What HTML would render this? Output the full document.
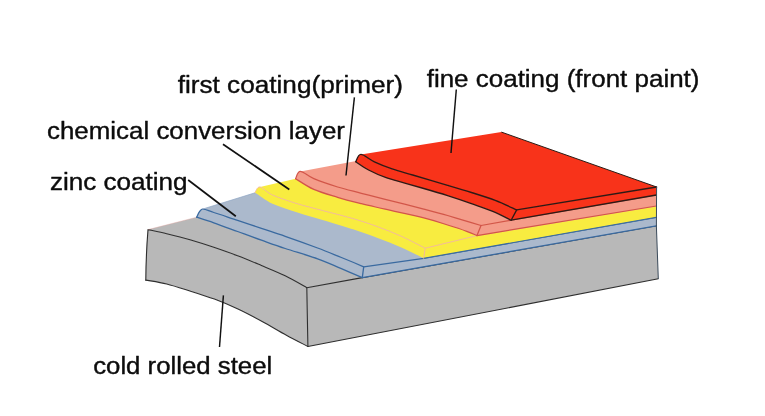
<!DOCTYPE html>
<html><head><meta charset="utf-8"><title>Coating layers</title>
<style>
html,body{margin:0;padding:0;background:#fff;}
body{width:765px;height:416px;overflow:hidden;}
svg{display:block;}
text{font-family:"Liberation Sans",Arial,sans-serif;font-size:24.6px;fill:#0c0c0c;stroke:#0c0c0c;stroke-width:0.4px;stroke-linejoin:round;}
svg{will-change:transform;}
</style></head><body>
<svg width="765" height="416" viewBox="0 0 765 416">
<rect width="765" height="416" fill="#ffffff"/>
<path d="M148.0,229.6L400.0,166.0L656.4,225.8L362.3,277.6L306.8,287.7C303.2,285.7 292.8,279.5 285.2,275.8C277.6,272.1 269.3,268.8 261.4,265.5C253.5,262.2 245.5,258.8 237.6,255.8C229.7,252.8 221.7,250.0 213.8,247.3C205.9,244.6 197.8,242.1 190.0,239.8C182.2,237.5 173.7,235.4 166.7,233.7C159.7,232.0 151.1,230.3 148.0,229.6Z" fill="#b8b8b8"/>
<path d="M145.8,280.1C146.0,254.7 146.0,254.7 148.0,229.6C151.1,230.3 159.7,232.0 166.7,233.7C173.7,235.4 182.2,237.5 190.0,239.8C197.8,242.1 205.9,244.6 213.8,247.3C221.7,250.0 229.7,252.8 237.6,255.8C245.5,258.8 253.5,262.2 261.4,265.5C269.3,268.8 277.6,272.1 285.2,275.8C292.8,279.5 303.2,285.7 306.8,287.7L307.9,346.5C304.3,344.6 293.9,339.3 286.4,335.2C278.8,331.1 270.6,326.0 262.6,321.7C254.6,317.4 246.5,313.1 238.5,309.3C230.5,305.5 222.4,302.1 214.4,299.1C206.4,296.1 198.6,293.7 190.6,291.2C182.6,288.7 174.2,285.9 166.7,284.0C159.2,282.1 149.3,280.8 145.8,280.1Z" fill="#b8b8b8"/>
<path d="M306.8,287.7L362.3,277.6L656.4,225.8L658.3,278.8L307.9,346.5Z" fill="#b8b8b8"/>
<path d="M145.8,280.1C149.3,280.8 159.2,282.1 166.7,284.0C174.2,285.9 182.6,288.7 190.6,291.2C198.6,293.7 206.4,296.1 214.4,299.1C222.4,302.1 230.5,305.5 238.5,309.3C246.5,313.1 254.6,317.4 262.6,321.7C270.6,326.0 278.8,331.1 286.4,335.2C293.9,339.3 304.3,344.6 307.9,346.5L658.3,278.8" fill="none" stroke="#2e2e2e" stroke-width="1.1" stroke-opacity="1" stroke-linejoin="round" stroke-linecap="round"/>
<path d="M145.8,280.1C146.0,254.7 146.0,254.7 148.0,229.6C151.1,230.3 159.7,232.0 166.7,233.7C173.7,235.4 182.2,237.5 190.0,239.8C197.8,242.1 205.9,244.6 213.8,247.3C221.7,250.0 229.7,252.8 237.6,255.8C245.5,258.8 253.5,262.2 261.4,265.5C269.3,268.8 277.6,272.1 285.2,275.8C292.8,279.5 303.2,285.7 306.8,287.7L362.3,277.6L656.4,225.8" fill="none" stroke="#2e2e2e" stroke-width="1.1" stroke-opacity="1" stroke-linejoin="round" stroke-linecap="round"/>
<path d="M306.8,287.7L307.9,346.5" fill="none" stroke="#2e2e2e" stroke-width="1.1" stroke-opacity="1" stroke-linejoin="round" stroke-linecap="round"/>
<path d="M148,229.6L196.7,217.2" fill="none" stroke="#e9a09a" stroke-width="0.6" stroke-opacity="0.6"/>
<path d="M201.9,209.3L255.0,192.8L400.0,160.0L656.4,217.3L423.7,258.3L363.7,266.8C360.0,265.2 349.1,260.6 341.4,257.5C333.7,254.4 327.0,251.5 317.6,248.0C308.2,244.5 294.6,239.6 285.2,236.3C275.8,233.0 269.3,231.0 261.4,228.3C253.5,225.7 245.5,223.0 237.6,220.4C229.7,217.8 219.8,214.3 213.8,212.5C207.9,210.7 204.8,208.5 201.9,209.3Z" fill="#abb9cc"/>
<path d="M196.7,217.2C197.6,215.9 199.1,210.1 201.9,209.3C204.8,208.5 207.9,210.7 213.8,212.5C219.8,214.3 229.7,217.8 237.6,220.4C245.5,223.0 253.5,225.7 261.4,228.3C269.3,231.0 275.8,233.0 285.2,236.3C294.6,239.6 308.2,244.5 317.6,248.0C327.0,251.5 333.7,254.4 341.4,257.5C349.1,260.6 360.0,265.2 363.7,266.8L362.3,277.6C358.8,276.1 348.8,271.8 341.4,268.7C333.9,265.6 327.0,262.2 317.6,258.8C308.2,255.4 294.6,251.6 285.2,248.5C275.8,245.4 269.3,243.0 261.4,240.2C253.5,237.4 245.5,234.4 237.6,231.5C229.7,228.6 220.6,225.2 213.8,222.8C207.0,220.4 199.5,218.1 196.7,217.2Z" fill="#abb9cc"/>
<path d="M363.7,266.8L423.7,258.3L656.4,217.3L656.4,225.8L362.3,277.6Z" fill="#abb9cc"/>
<path d="M196.7,217.2C199.5,218.1 207.0,220.4 213.8,222.8C220.6,225.2 229.7,228.6 237.6,231.5C245.5,234.4 253.5,237.4 261.4,240.2C269.3,243.0 275.8,245.4 285.2,248.5C294.6,251.6 308.2,255.4 317.6,258.8C327.0,262.2 333.9,265.6 341.4,268.7C348.8,271.8 358.8,276.1 362.3,277.6L656.4,225.8" fill="none" stroke="#3a6aa0" stroke-width="1.3" stroke-opacity="1" stroke-linejoin="round" stroke-linecap="round"/>
<path d="M196.7,217.2C197.6,215.9 199.1,210.1 201.9,209.3C204.8,208.5 207.9,210.7 213.8,212.5C219.8,214.3 229.7,217.8 237.6,220.4C245.5,223.0 253.5,225.7 261.4,228.3C269.3,231.0 275.8,233.0 285.2,236.3C294.6,239.6 308.2,244.5 317.6,248.0C327.0,251.5 333.7,254.4 341.4,257.5C349.1,260.6 360.0,265.2 363.7,266.8L423.7,258.3L656.4,217.3" fill="none" stroke="#3a6aa0" stroke-width="1.3" stroke-opacity="1" stroke-linejoin="round" stroke-linecap="round"/>
<path d="M363.7,266.8L362.3,277.6" fill="none" stroke="#3a6aa0" stroke-width="1.3" stroke-opacity="1" stroke-linejoin="round" stroke-linecap="round"/>
<path d="M201.9,209.3L255,192.8" fill="none" stroke="#8fa6c4" stroke-width="0.7"/>
<path d="M260.0,187.0L420.0,150.0L656.4,206.0L477.0,235.6L425.2,248.2C421.2,246.2 409.3,239.9 401.4,236.3C393.5,232.7 385.5,229.6 377.6,226.7C369.7,223.8 363.0,221.5 353.8,218.8C344.6,216.1 331.9,213.0 322.5,210.5C313.1,208.0 305.8,206.3 297.5,203.8C289.2,201.2 278.8,197.8 272.5,195.0C266.2,192.2 262.9,187.4 260.0,187.0Z" fill="#f8ec40"/>
<path d="M255.0,192.5C255.8,191.6 257.1,186.6 260.0,187.0C262.9,187.4 266.2,192.2 272.5,195.0C278.8,197.8 289.2,201.2 297.5,203.8C305.8,206.3 313.1,208.0 322.5,210.5C331.9,213.0 344.6,216.1 353.8,218.8C363.0,221.5 369.7,223.8 377.6,226.7C385.5,229.6 393.5,232.7 401.4,236.3C409.3,239.9 421.2,246.2 425.2,248.2L423.7,258.3C420.0,256.5 409.1,250.8 401.4,247.4C393.7,244.0 385.5,240.9 377.6,237.9C369.7,234.9 363.0,232.6 353.8,229.6C344.6,226.6 331.9,222.8 322.5,220.0C313.1,217.2 305.8,215.2 297.5,212.5C289.2,209.8 279.6,207.1 272.5,203.8C265.4,200.4 257.9,194.4 255.0,192.5Z" fill="#f8ec40"/>
<path d="M425.2,248.2L477.0,235.6L656.4,206.0L656.4,217.3L423.7,258.3Z" fill="#f8ec40"/>
<path d="M255.0,192.5C255.8,191.6 257.1,186.6 260.0,187.0C262.9,187.4 266.2,192.2 272.5,195.0C278.8,197.8 289.2,201.2 297.5,203.8C305.8,206.3 313.1,208.0 322.5,210.5C331.9,213.0 344.6,216.1 353.8,218.8C363.0,221.5 369.7,223.8 377.6,226.7C385.5,229.6 393.5,232.7 401.4,236.3C409.3,239.9 421.2,246.2 425.2,248.2L477.0,235.6L656.4,206.0" fill="none" stroke="#f6bd96" stroke-width="1.0" stroke-opacity="1" stroke-linejoin="round" stroke-linecap="round"/>
<path d="M425.2,248.2L423.7,258.3" fill="none" stroke="#f6bd96" stroke-width="1.0" stroke-opacity="1" stroke-linejoin="round" stroke-linecap="round"/>
<path d="M423.7,258.3L656.4,217.3" fill="none" stroke="#3a6aa0" stroke-width="1.1"/>
<path d="M300.3,171.4L420.0,148.9L656.4,195.0L511.1,220.2L481.0,225.5C479.4,225.0 477.0,224.3 471.4,222.6C465.8,220.9 455.5,217.8 447.6,215.5C439.7,213.2 434.2,211.8 423.8,209.1C413.4,206.4 395.6,202.0 385.2,199.4C374.8,196.8 369.3,195.4 361.4,193.3C353.5,191.2 345.5,189.4 337.6,187.0C329.7,184.6 320.0,181.3 313.8,178.7C307.6,176.1 303.3,171.4 300.3,171.4Z" fill="#f49c8a"/>
<path d="M295.6,178.7C296.4,177.5 297.3,171.4 300.3,171.4C303.3,171.4 307.6,176.1 313.8,178.7C320.0,181.3 329.7,184.6 337.6,187.0C345.5,189.4 353.5,191.2 361.4,193.3C369.3,195.4 374.8,196.8 385.2,199.4C395.6,202.0 413.4,206.4 423.8,209.1C434.2,211.8 439.7,213.2 447.6,215.5C455.5,217.8 465.8,220.9 471.4,222.6C477.0,224.3 479.4,225.0 481.0,225.5L477.0,235.6C475.3,234.9 471.6,233.1 466.7,231.3C461.8,229.5 454.8,227.2 447.6,225.0C440.5,222.8 434.2,220.5 423.8,217.9C413.4,215.3 395.6,211.6 385.2,209.2C374.8,206.8 369.3,205.7 361.4,203.7C353.5,201.7 345.5,199.7 337.6,197.3C329.7,194.9 320.8,192.5 313.8,189.4C306.8,186.3 298.6,180.5 295.6,178.7Z" fill="#f49c8a"/>
<path d="M481.0,225.5L511.1,220.2L656.4,195.0L656.4,206.0L477.0,235.6Z" fill="#f49c8a"/>
<path d="M295.6,178.7C298.6,180.5 306.8,186.3 313.8,189.4C320.8,192.5 329.7,194.9 337.6,197.3C345.5,199.7 353.5,201.7 361.4,203.7C369.3,205.7 374.8,206.8 385.2,209.2C395.6,211.6 413.4,215.3 423.8,217.9C434.2,220.5 440.5,222.8 447.6,225.0C454.8,227.2 461.8,229.5 466.7,231.3C471.6,233.1 475.3,234.9 477.0,235.6L656.4,206.0" fill="none" stroke="#d2554a" stroke-width="1.25" stroke-opacity="1" stroke-linejoin="round" stroke-linecap="round"/>
<path d="M295.6,178.7C296.4,177.5 297.3,171.4 300.3,171.4C303.3,171.4 307.6,176.1 313.8,178.7C320.0,181.3 329.7,184.6 337.6,187.0C345.5,189.4 353.5,191.2 361.4,193.3C369.3,195.4 374.8,196.8 385.2,199.4C395.6,202.0 413.4,206.4 423.8,209.1C434.2,211.8 439.7,213.2 447.6,215.5C455.5,217.8 465.8,220.9 471.4,222.6C477.0,224.3 479.4,225.0 481.0,225.5L511.1,220.2L656.4,195.0" fill="none" stroke="#d2554a" stroke-width="1.25" stroke-opacity="1" stroke-linejoin="round" stroke-linecap="round"/>
<path d="M481.0,225.5L477.0,235.6" fill="none" stroke="#d2554a" stroke-width="1.25" stroke-opacity="1" stroke-linejoin="round" stroke-linecap="round"/>
<path d="M360.9,154.4L501.4,132.1L656.6,187.0L516.7,209.9C513.1,208.3 502.8,203.3 495.2,200.4C487.6,197.5 479.3,195.0 471.4,192.5C463.5,190.0 457.4,188.2 447.6,185.3C437.8,182.4 421.9,177.7 412.7,175.0C403.4,172.3 398.5,171.1 392.1,168.9C385.7,166.7 379.6,164.2 374.4,161.8C369.2,159.4 364.0,154.4 360.9,154.4Z" fill="#f8331a"/>
<path d="M355.8,161.8C356.6,160.6 357.8,154.4 360.9,154.4C364.0,154.4 369.2,159.4 374.4,161.8C379.6,164.2 385.7,166.7 392.1,168.9C398.5,171.1 403.4,172.3 412.7,175.0C421.9,177.7 437.8,182.4 447.6,185.3C457.4,188.2 463.5,190.0 471.4,192.5C479.3,195.0 487.6,197.5 495.2,200.4C502.8,203.3 513.1,208.3 516.7,209.9L511.1,220.2C508.5,218.9 501.8,215.1 495.2,212.3C488.6,209.5 479.3,206.4 471.4,203.6C463.5,200.8 455.5,198.1 447.6,195.6C439.7,193.1 431.1,190.6 423.8,188.5C416.5,186.4 410.2,184.6 403.9,182.8C397.6,181.0 392.1,179.8 386.2,177.7C380.3,175.6 373.7,172.7 368.6,170.0C363.5,167.3 357.9,163.2 355.8,161.8Z" fill="#f8331a"/>
<path d="M516.7,209.9L656.6,187.0L656.4,195.0L511.1,220.2Z" fill="#f8331a"/>
<path d="M355.8,161.8C357.9,163.2 363.5,167.3 368.6,170.0C373.7,172.7 380.3,175.6 386.2,177.7C392.1,179.8 397.6,181.0 403.9,182.8C410.2,184.6 416.5,186.4 423.8,188.5C431.1,190.6 439.7,193.1 447.6,195.6C455.5,198.1 463.5,200.8 471.4,203.6C479.3,206.4 488.6,209.5 495.2,212.3C501.8,215.1 508.5,218.9 511.1,220.2L656.4,195.0" fill="none" stroke="#2e1a16" stroke-width="1.35" stroke-opacity="1" stroke-linejoin="round" stroke-linecap="round"/>
<path d="M355.8,161.8C356.6,160.6 357.8,154.4 360.9,154.4C364.0,154.4 369.2,159.4 374.4,161.8C379.6,164.2 385.7,166.7 392.1,168.9C398.5,171.1 403.4,172.3 412.7,175.0C421.9,177.7 437.8,182.4 447.6,185.3C457.4,188.2 463.5,190.0 471.4,192.5C479.3,195.0 487.6,197.5 495.2,200.4C502.8,203.3 513.1,208.3 516.7,209.9L656.6,187.0" fill="none" stroke="#2e1a16" stroke-width="1.35" stroke-opacity="1" stroke-linejoin="round" stroke-linecap="round"/>
<path d="M516.7,209.9L511.1,220.2" fill="none" stroke="#2e1a16" stroke-width="1.35" stroke-opacity="1" stroke-linejoin="round" stroke-linecap="round"/>
<path d="M501.4,132.1L656.6,187" fill="none" stroke="#2a1a14" stroke-width="1"/>
<path d="M656.6,187L656.4,226L658.3,278.8" fill="none" stroke="#3a4a5a" stroke-width="1"/>
<path d="M456.3,89.5L451,153" stroke="#111" stroke-width="1.45" fill="none"/>
<path d="M354.4,97.3L346,175.5" stroke="#111" stroke-width="1.45" fill="none"/>
<path d="M223,144.2L289.3,189.5" stroke="#111" stroke-width="1.7" fill="none"/>
<path d="M188.2,180L235.8,216.3" stroke="#111" stroke-width="1.7" fill="none"/>
<path d="M223.4,295.4L219.5,347" stroke="#111" stroke-width="1.45" fill="none"/>
<text x="426.7" y="86.8" textLength="272.8" lengthAdjust="spacingAndGlyphs">fine coating (front paint)</text>
<text x="177.7" y="92.6" textLength="225.3" lengthAdjust="spacingAndGlyphs">first coating(primer)</text>
<text x="47.0" y="139.0" textLength="298" lengthAdjust="spacingAndGlyphs">chemical conversion layer</text>
<text x="50" y="190.2" textLength="137.6" lengthAdjust="spacingAndGlyphs">zinc coating</text>
<text x="93.2" y="373.5" textLength="179" lengthAdjust="spacingAndGlyphs">cold rolled steel</text>
</svg>
</body></html>
